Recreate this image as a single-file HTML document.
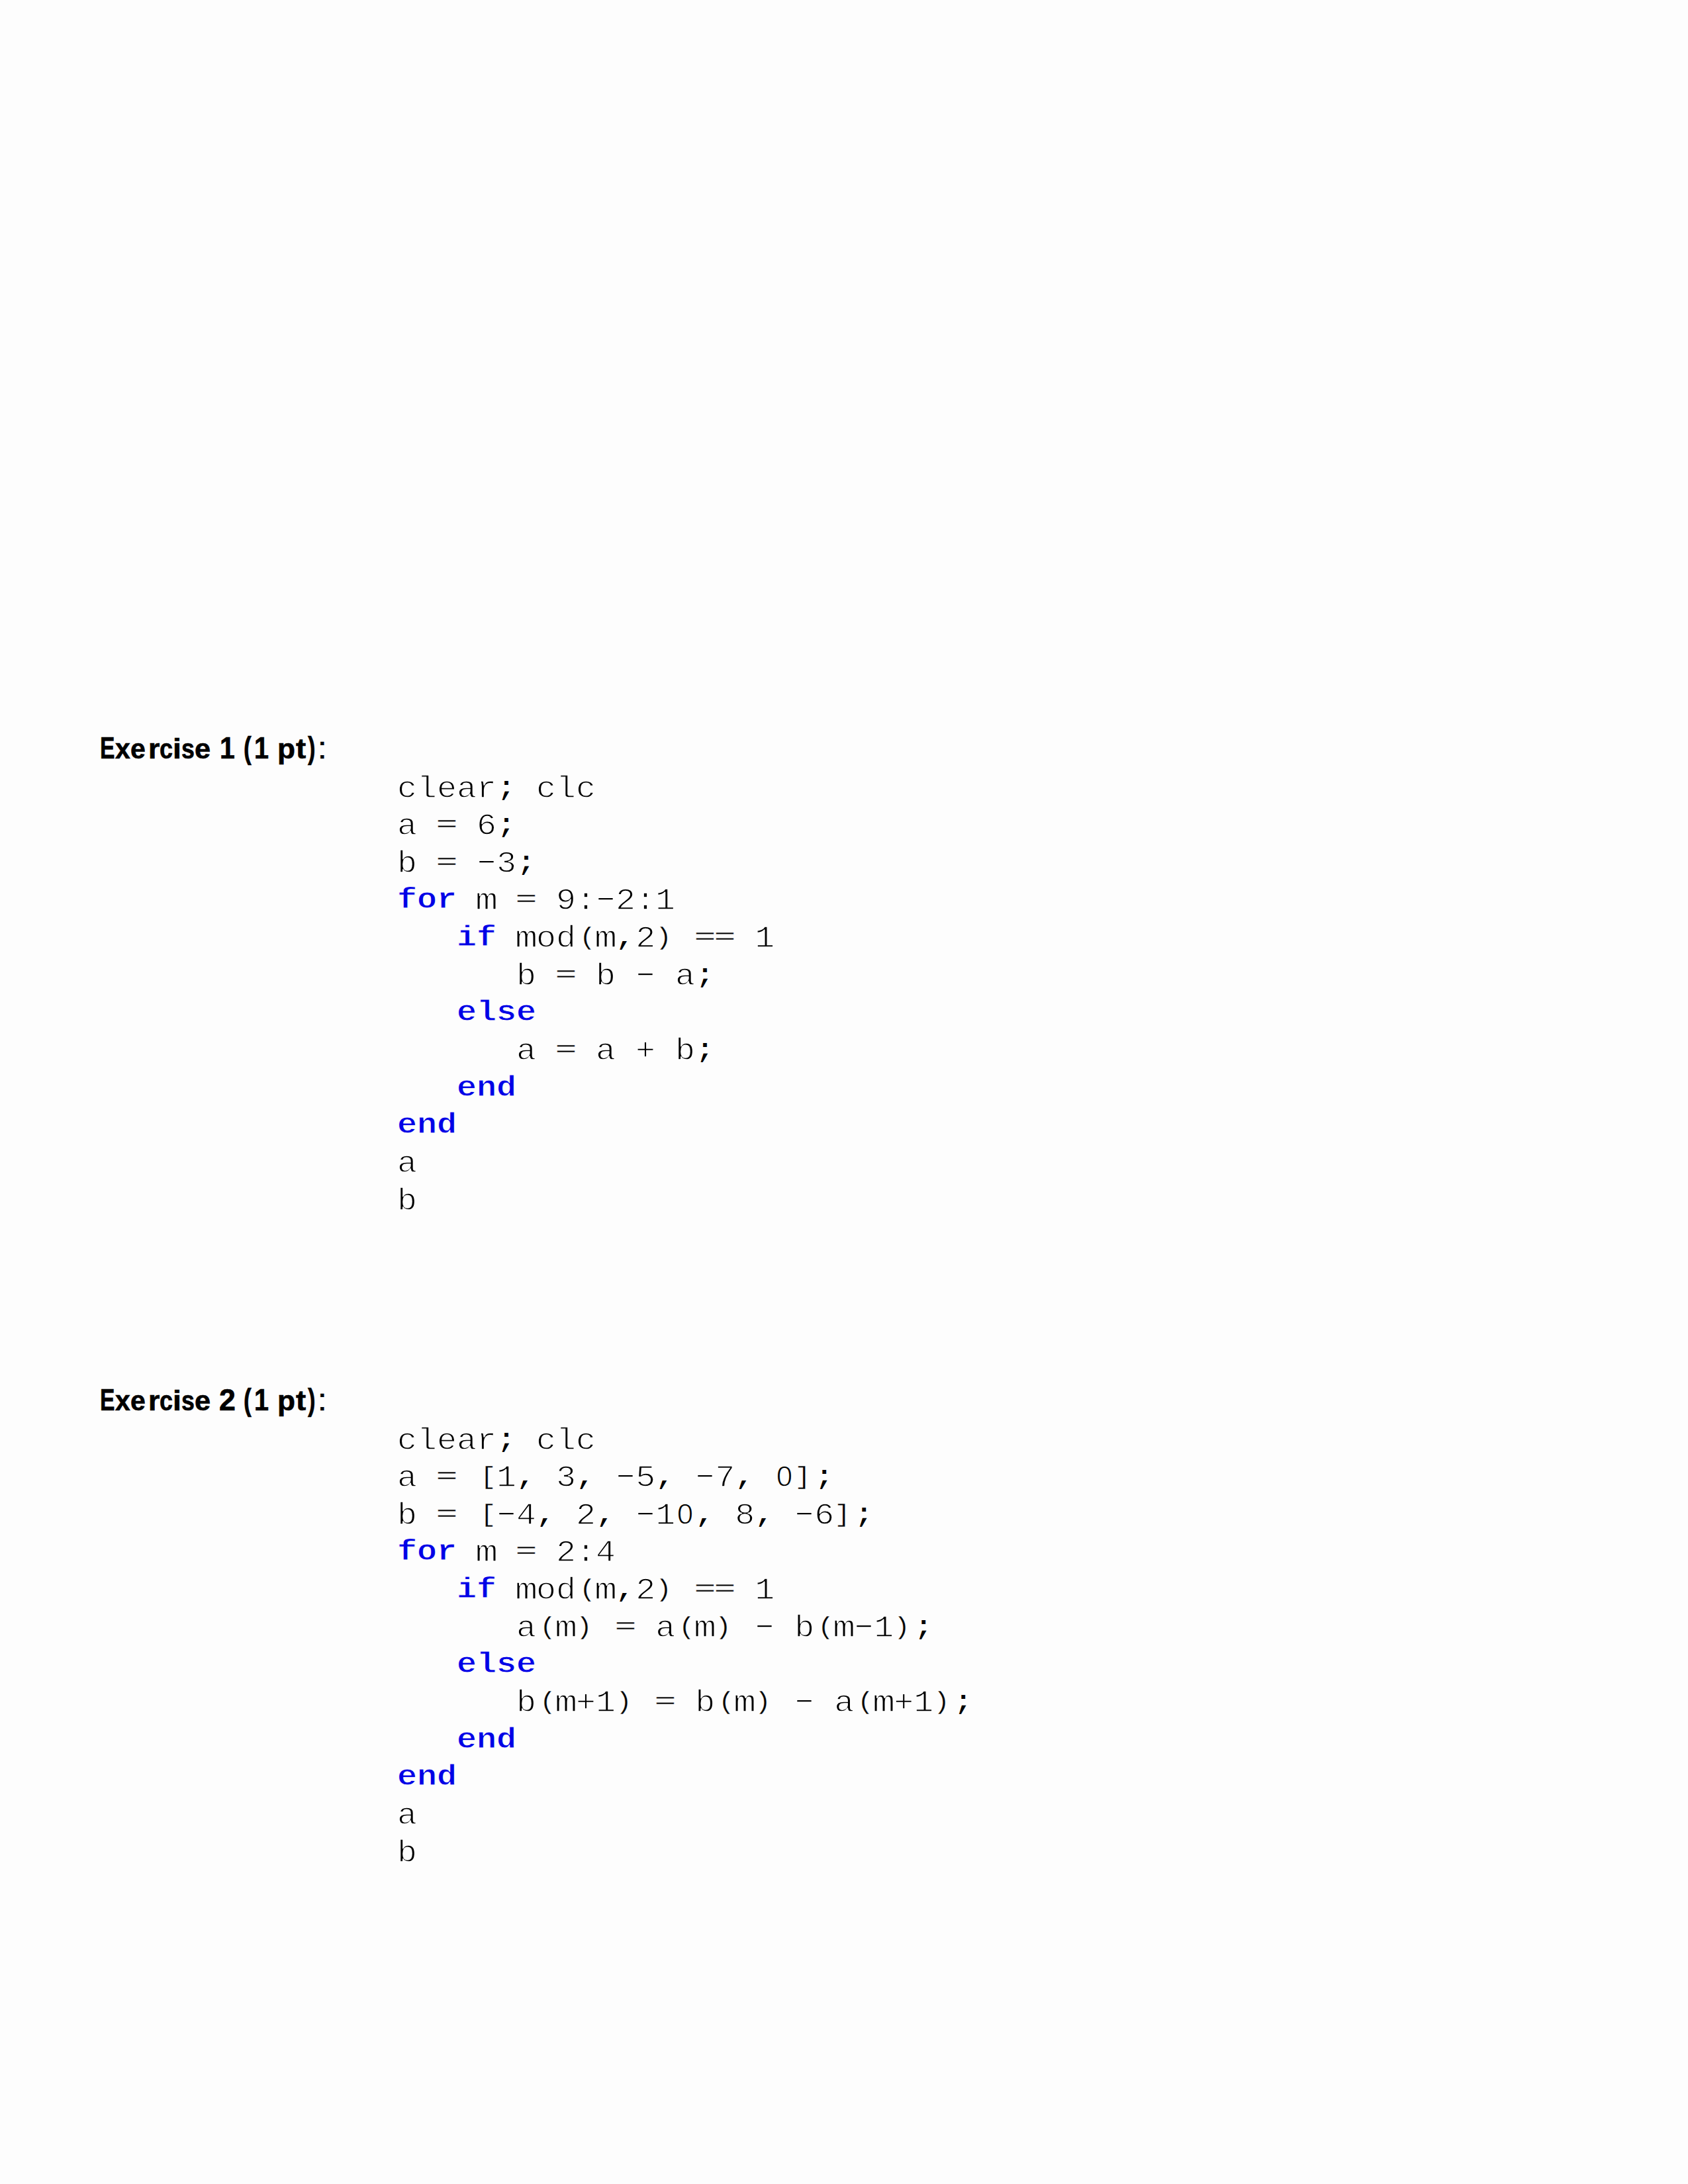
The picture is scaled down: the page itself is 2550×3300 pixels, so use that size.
<!DOCTYPE html>
<html><head><meta charset="utf-8">
<style>
html,body{margin:0;padding:0;background:#fdfdfd;}
body{width:2550px;height:3300px;position:relative;overflow:hidden;}
.hd{position:absolute;left:0;width:600px;height:60px;font-family:"Liberation Sans",sans-serif;font-size:46px;line-height:60px;color:#000;white-space:pre;font-weight:bold;}
.hd span{position:absolute;top:0;transform-origin:0 46px;-webkit-text-stroke:0.7px #000;}
.hd .co{font-weight:normal;}
.ln{position:absolute;left:600px;height:56.64px;font-family:"Liberation Mono",monospace;font-size:50px;line-height:56.64px;color:#000;white-space:pre;transform:scaleY(0.93);transform-origin:0 41.5px;-webkit-text-stroke:1.4px #fff;}
.mi{display:inline-block;transform:scaleX(1.75) translateY(-3.5px);}
.z{display:inline-block;transform:scaleX(0.85);}
.po{display:inline-block;transform:translate(2.5px,-2px) scale(0.8,0.8);-webkit-text-stroke:0.4px #fff;}
.pc{display:inline-block;transform:translate(-2.5px,-2px) scale(0.8,0.8);-webkit-text-stroke:0.4px #fff;}
.mm{display:inline-block;transform:scaleX(1.15);}
.eq{display:inline-block;transform:translateY(-2px) scale(1.1,0.73);-webkit-text-stroke:0.4px #fff;}
.sc{display:inline-block;transform-origin:50% 18px;transform:scaleY(0.86);-webkit-text-stroke:0px #fff;}
.k{display:inline-block;transform-origin:50% 41.5px;transform:translateY(-2px) scaleY(0.94);color:#0000e6;font-weight:bold;-webkit-text-stroke:1.0px #fff;}
</style></head><body>
<div class="hd" style="top:1100px"><span style="left:150.81px;transform:scale(0.731,1.000)">E</span><span style="left:174.11px;transform:scale(0.888,0.920)">x</span><span style="left:197.42px;transform:scale(0.891,0.920)">e</span><span style="left:223.59px;transform:scale(0.971,0.920)">r</span><span style="left:240.94px;transform:scale(0.782,0.920)">c</span><span style="left:260.76px;transform:scale(1.014,0.940)">i</span><span style="left:274.15px;transform:scale(0.777,0.920)">s</span><span style="left:293.92px;transform:scale(0.941,0.920)">e</span><span style="left:332.13px;transform:scale(0.891,1.000)">1</span><span style="left:368.26px;transform:scale(0.769,1.000)">(</span><span style="left:384.42px;transform:scale(0.859,1.000)">1</span><span style="left:418.92px;transform:scale(0.961,0.920)">p</span><span style="left:447.00px;transform:scale(0.993,0.935)">t</span><span style="left:465.00px;transform:scale(0.746,1.000)">)</span><span class="co" style="left:479.86px;transform:scale(1.060,1.000)">:</span></div>
<div class="ln" style="top:1163.50px">clear<span class="sc">;</span> clc</div>
<div class="ln" style="top:1220.14px">a <span class="eq">=</span> 6<span class="sc">;</span></div>
<div class="ln" style="top:1276.78px">b <span class="eq">=</span> <span class="mi">-</span>3<span class="sc">;</span></div>
<div class="ln" style="top:1333.42px"><span class="k">for</span> <span class="mm">m</span> <span class="eq">=</span> 9:<span class="mi">-</span>2:1</div>
<div class="ln" style="top:1390.06px">   <span class="k">if</span> <span class="mm">m</span>od<span class="po">(</span><span class="mm">m</span><span class="sc">,</span>2<span class="pc">)</span> <span class="eq">=</span><span class="eq">=</span> 1</div>
<div class="ln" style="top:1446.70px">      b <span class="eq">=</span> b <span class="mi">-</span> a<span class="sc">;</span></div>
<div class="ln" style="top:1503.34px">   <span class="k">else</span></div>
<div class="ln" style="top:1559.98px">      a <span class="eq">=</span> a + b<span class="sc">;</span></div>
<div class="ln" style="top:1616.62px">   <span class="k">end</span></div>
<div class="ln" style="top:1673.26px"><span class="k">end</span></div>
<div class="ln" style="top:1729.90px">a</div>
<div class="ln" style="top:1786.54px">b</div>
<div class="hd" style="top:2085px"><span style="left:150.81px;transform:scale(0.731,1.000)">E</span><span style="left:174.11px;transform:scale(0.888,0.920)">x</span><span style="left:197.42px;transform:scale(0.891,0.920)">e</span><span style="left:223.59px;transform:scale(0.971,0.920)">r</span><span style="left:240.94px;transform:scale(0.782,0.920)">c</span><span style="left:260.76px;transform:scale(1.014,0.940)">i</span><span style="left:274.15px;transform:scale(0.777,0.920)">s</span><span style="left:293.92px;transform:scale(0.941,0.920)">e</span><span style="left:331.05px;transform:scale(0.973,1.000)">2</span><span style="left:368.26px;transform:scale(0.769,1.000)">(</span><span style="left:384.42px;transform:scale(0.859,1.000)">1</span><span style="left:418.92px;transform:scale(0.961,0.920)">p</span><span style="left:447.00px;transform:scale(0.993,0.935)">t</span><span style="left:465.00px;transform:scale(0.746,1.000)">)</span><span class="co" style="left:479.86px;transform:scale(1.060,1.000)">:</span></div>
<div class="ln" style="top:2148.50px">clear<span class="sc">;</span> clc</div>
<div class="ln" style="top:2205.14px">a <span class="eq">=</span> <span class="po">[</span>1<span class="sc">,</span> 3<span class="sc">,</span> <span class="mi">-</span>5<span class="sc">,</span> <span class="mi">-</span>7<span class="sc">,</span> <span class="z">O</span><span class="pc">]</span><span class="sc">;</span></div>
<div class="ln" style="top:2261.78px">b <span class="eq">=</span> <span class="po">[</span><span class="mi">-</span>4<span class="sc">,</span> 2<span class="sc">,</span> <span class="mi">-</span>1<span class="z">O</span><span class="sc">,</span> 8<span class="sc">,</span> <span class="mi">-</span>6<span class="pc">]</span><span class="sc">;</span></div>
<div class="ln" style="top:2318.42px"><span class="k">for</span> <span class="mm">m</span> <span class="eq">=</span> 2:4</div>
<div class="ln" style="top:2375.06px">   <span class="k">if</span> <span class="mm">m</span>od<span class="po">(</span><span class="mm">m</span><span class="sc">,</span>2<span class="pc">)</span> <span class="eq">=</span><span class="eq">=</span> 1</div>
<div class="ln" style="top:2431.70px">      a<span class="po">(</span><span class="mm">m</span><span class="pc">)</span> <span class="eq">=</span> a<span class="po">(</span><span class="mm">m</span><span class="pc">)</span> <span class="mi">-</span> b<span class="po">(</span><span class="mm">m</span><span class="mi">-</span>1<span class="pc">)</span><span class="sc">;</span></div>
<div class="ln" style="top:2488.34px">   <span class="k">else</span></div>
<div class="ln" style="top:2544.98px">      b<span class="po">(</span><span class="mm">m</span>+1<span class="pc">)</span> <span class="eq">=</span> b<span class="po">(</span><span class="mm">m</span><span class="pc">)</span> <span class="mi">-</span> a<span class="po">(</span><span class="mm">m</span>+1<span class="pc">)</span><span class="sc">;</span></div>
<div class="ln" style="top:2601.62px">   <span class="k">end</span></div>
<div class="ln" style="top:2658.26px"><span class="k">end</span></div>
<div class="ln" style="top:2714.90px">a</div>
<div class="ln" style="top:2771.54px">b</div>
</body></html>
